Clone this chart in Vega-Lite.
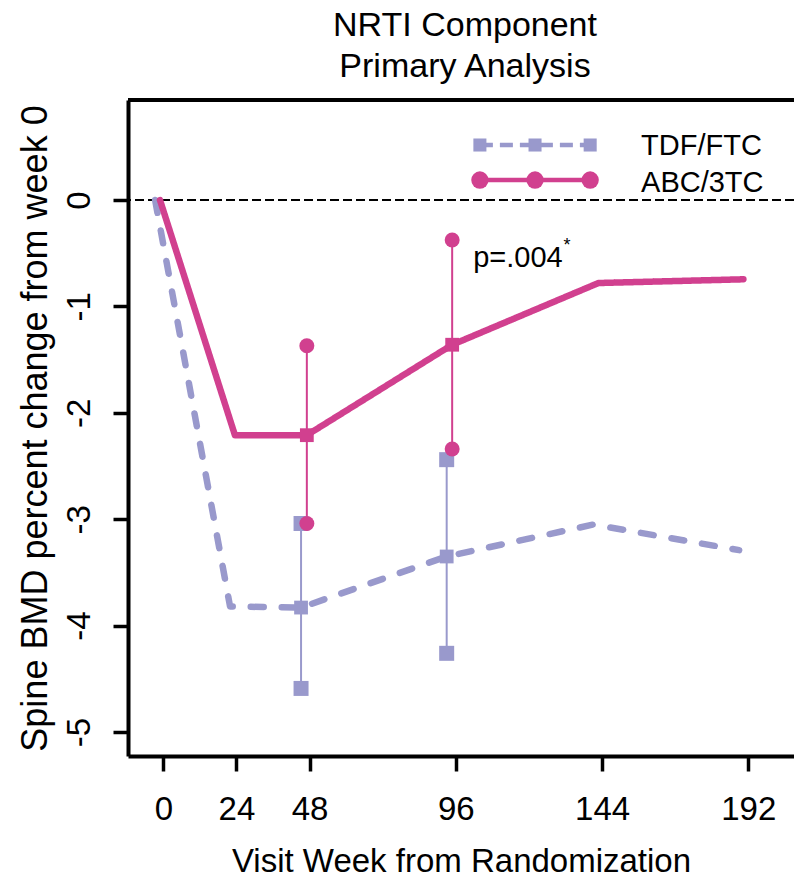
{
  "$schema": "https://vega.github.io/schema/vega-lite/v6.json",
  "width": 666,
  "height": 656,
  "autosize": {"type": "none"},
  "padding": {"left": 128, "top": 100, "right": 0, "bottom": 125},
  "background": "white",
  "title": {
    "text": ["NRTI Component", "Primary Analysis"],
    "fontSize": 34,
    "lineHeight": 41,
    "fontWeight": "normal",
    "anchor": "middle",
    "color": "black",
    "offset": 14,
    "dx": 4
  },
  "data": {"values": [{}]},
  "datasets": {
    "lines": [
      {"series": "TDF/FTC", "week": -2.7, "value": 0},
      {"series": "TDF/FTC", "week": 21.9, "value": -3.82},
      {"series": "TDF/FTC", "week": 45.2, "value": -3.83},
      {"series": "TDF/FTC", "week": 93.0, "value": -3.35},
      {"series": "TDF/FTC", "week": 141.1, "value": -3.05},
      {"series": "TDF/FTC", "week": 189.0, "value": -3.29},
      {"series": "ABC/3TC", "week": -1.1, "value": 0},
      {"series": "ABC/3TC", "week": 23.5, "value": -2.21},
      {"series": "ABC/3TC", "week": 47.1, "value": -2.21},
      {"series": "ABC/3TC", "week": 94.8, "value": -1.36},
      {"series": "ABC/3TC", "week": 142.8, "value": -0.78},
      {"series": "ABC/3TC", "week": 190.4, "value": -0.745}
    ],
    "errors": [
      {"series": "TDF/FTC", "week": 45.2, "center": -3.83, "lo": -4.59, "hi": -3.04},
      {"series": "TDF/FTC", "week": 93.0, "center": -3.35, "lo": -4.26, "hi": -2.44},
      {"series": "ABC/3TC", "week": 47.1, "center": -2.21, "lo": -3.04, "hi": -1.37},
      {"series": "ABC/3TC", "week": 94.8, "center": -1.36, "lo": -2.34, "hi": -0.376}
    ]
  },
  "encoding": {
    "x": {
      "type": "quantitative",
      "scale": {"domain": [-11.6, 207], "nice": false, "zero": false},
      "axis": {
        "values": [0, 24, 48, 96, 144, 192],
        "title": "Visit Week from Randomization",
        "tickSize": 15,
        "labelPadding": 22,
        "titlePadding": 19
      }
    },
    "y": {
      "type": "quantitative",
      "scale": {"domain": [-5.225, 0.94], "nice": false, "zero": false},
      "axis": {
        "values": [0, -1, -2, -3, -4, -5],
        "labelExpr": "replace(datum.label, '\u2212', '-')",
        "title": "Spine BMD percent change from week 0",
        "titleLimit": 2000,
        "titleFontSize": 36,
        "tickSize": 15,
        "labelAngle": 270,
        "labelAlign": "center",
        "labelBaseline": "alphabetic",
        "labelPadding": 24,
        "titlePadding": 9
      }
    }
  },
  "layer": [
    {
      "mark": {"type": "rule", "color": "black", "strokeWidth": 2, "strokeDash": [9, 4]},
      "encoding": {"y": {"datum": 0}}
    },
    {
      "mark": {"type": "rule", "color": "black", "strokeWidth": 4},
      "encoding": {"y": {"datum": 0.94}}
    },
    {
      "data": {"name": "lines"},
      "mark": {"type": "line", "strokeWidth": 6.5, "strokeCap": "round", "strokeJoin": "round"},
      "encoding": {
        "x": {"field": "week"},
        "y": {"field": "value"},
        "detail": {"field": "series"},
        "color": {"field": "series", "type": "nominal", "scale": {"domain": ["TDF/FTC", "ABC/3TC"], "range": ["#9999CC", "#D1408F"]}, "legend": null},
        "strokeDash": {"field": "series", "type": "nominal", "scale": {"domain": ["TDF/FTC", "ABC/3TC"], "range": [[13, 18], [1, 0]]}, "legend": null}
      }
    },
    {
      "data": {"name": "errors"},
      "mark": {"type": "rule", "strokeWidth": 2},
      "encoding": {
        "x": {"field": "week"},
        "y": {"field": "lo"},
        "y2": {"field": "hi"},
        "color": {"field": "series", "type": "nominal", "legend": null}
      }
    },
    {
      "data": {"name": "errors"},
      "transform": [{"fold": ["lo", "hi"], "as": ["end", "bound"]}],
      "mark": {"type": "point", "filled": true, "opacity": 1, "size": 225},
      "encoding": {
        "x": {"field": "week"},
        "y": {"field": "bound"},
        "color": {"field": "series", "type": "nominal", "legend": null},
        "shape": {"field": "series", "type": "nominal", "scale": {"domain": ["TDF/FTC", "ABC/3TC"], "range": ["square", "circle"]}, "legend": null}
      }
    },
    {
      "data": {"name": "errors"},
      "mark": {"type": "point", "filled": true, "opacity": 1, "size": 190, "shape": "square"},
      "encoding": {
        "x": {"field": "week"},
        "y": {"field": "center"},
        "color": {"field": "series", "type": "nominal", "legend": null}
      }
    },
    {
      "mark": {"type": "rule", "color": "#9999CC", "strokeWidth": 4.5, "strokeDash": [13, 7]},
      "encoding": {"x": {"datum": 103.9}, "x2": {"datum": 140.1}, "y": {"datum": 0.517}}
    },
    {
      "mark": {"type": "point", "filled": true, "opacity": 1, "size": 170, "shape": "square", "color": "#9999CC"},
      "encoding": {"x": {"datum": 103.9}, "y": {"datum": 0.517}}
    },
    {
      "mark": {"type": "point", "filled": true, "opacity": 1, "size": 170, "shape": "square", "color": "#9999CC"},
      "encoding": {"x": {"datum": 122}, "y": {"datum": 0.517}}
    },
    {
      "mark": {"type": "point", "filled": true, "opacity": 1, "size": 170, "shape": "square", "color": "#9999CC"},
      "encoding": {"x": {"datum": 140.1}, "y": {"datum": 0.517}}
    },
    {
      "mark": {"type": "rule", "color": "#D1408F", "strokeWidth": 4.5},
      "encoding": {"x": {"datum": 103.9}, "x2": {"datum": 140.1}, "y": {"datum": 0.188}}
    },
    {
      "mark": {"type": "point", "filled": true, "opacity": 1, "size": 300, "shape": "circle", "color": "#D1408F"},
      "encoding": {"x": {"datum": 103.9}, "y": {"datum": 0.188}}
    },
    {
      "mark": {"type": "point", "filled": true, "opacity": 1, "size": 300, "shape": "circle", "color": "#D1408F"},
      "encoding": {"x": {"datum": 122}, "y": {"datum": 0.188}}
    },
    {
      "mark": {"type": "point", "filled": true, "opacity": 1, "size": 300, "shape": "circle", "color": "#D1408F"},
      "encoding": {"x": {"datum": 140.1}, "y": {"datum": 0.188}}
    },
    {
      "mark": {"type": "text", "text": "TDF/FTC", "align": "left", "baseline": "alphabetic", "fontSize": 29, "color": "black"},
      "encoding": {"x": {"datum": 156.8}, "y": {"datum": 0.423}}
    },
    {
      "mark": {"type": "text", "text": "ABC/3TC", "align": "left", "baseline": "alphabetic", "fontSize": 29, "color": "black"},
      "encoding": {"x": {"datum": 156.8}, "y": {"datum": 0.078}}
    },
    {
      "mark": {"type": "text", "text": "p=.004", "align": "left", "baseline": "alphabetic", "fontSize": 29, "color": "black"},
      "encoding": {"x": {"datum": 101.7}, "y": {"datum": -0.63}}
    },
    {
      "mark": {"type": "text", "text": "*", "align": "center", "baseline": "alphabetic", "fontSize": 18, "color": "black"},
      "encoding": {"x": {"datum": 132.5}, "y": {"datum": -0.475}}
    }
  ],
  "config": {
    "font": "Liberation Sans",
    "view": {"stroke": null},
    "axis": {
      "grid": false,
      "domainColor": "black",
      "domainWidth": 4,
      "tickColor": "black",
      "tickWidth": 3.5,
      "labelColor": "black",
      "labelFontSize": 33,
      "titleColor": "black",
      "titleFontSize": 33,
      "titleFontWeight": "normal"
    }
  }
}
